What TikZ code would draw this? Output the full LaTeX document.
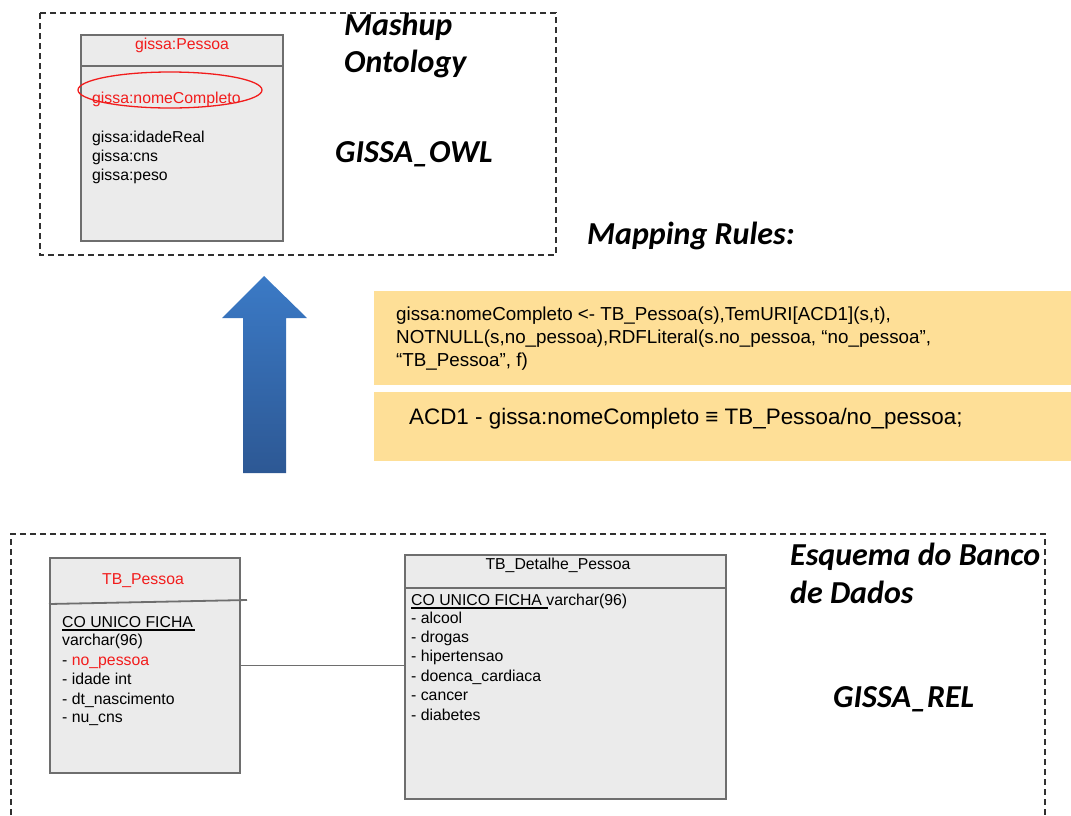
\documentclass[tikz,border=0pt]{standalone}
\usepackage{fontspec}
\setmainfont{Liberation Sans}
\newfontfamily\headfont{Carlito}
\usetikzlibrary{shapes.geometric}

\definecolor{boxfill}{HTML}{EBEBEB}
\definecolor{boxline}{HTML}{6E6E6E}
\definecolor{frameline}{HTML}{303030}
\definecolor{rulefill}{HTML}{FEDF97}
\definecolor{arrowtop}{HTML}{3B7AC6}
\definecolor{arrowbot}{HTML}{2D5894}
\definecolor{hired}{HTML}{F21C1C}

\tikzset{
  frame/.style={draw=frameline, line width=1.3pt, dash pattern=on 6pt off 4pt},
  classbox/.style={draw=boxline, fill=boxfill, line width=2pt, anchor=north west,
    inner sep=0pt},
  divider/.style={draw=boxline, line width=1.8pt},
  rulebox/.style={fill=rulefill, draw=none, anchor=north west, inner sep=0pt},
  txt/.style={anchor=base west, inner sep=0pt, font=\fontsize{15.8}{19}\selectfont},
  ttl/.style={anchor=base, inner sep=0pt, font=\fontsize{15.8}{19}\selectfont},
  head/.style={anchor=base west, inner sep=0pt,
    font=\headfont\bfseries\itshape\fontsize{32}{38}\selectfont},
  ruletxt/.style={anchor=base west, inner sep=0pt, font=\fontsize{18.8}{23}\selectfont},
  conn/.style={draw=boxline, line width=1.6pt},
}

\begin{document}
\begin{tikzpicture}[x=1pt, y=-1pt]
\useasboundingbox (0,0) rectangle (1071,815);

% ---- ontology frame ----
\draw[frame] (40,13) rectangle (556,255);
\node[classbox, minimum width=202pt, minimum height=206pt] (owl) at (80,34) {};
\draw[divider] (80,66) -- (282,66);
\node[ttl, text=hired] (owltitle) at (182,49) {gissa:Pessoa};
\node[txt, text=hired] (nome) at (92,103) {gissa:nomeCompleto};
\node[draw=hired, line width=1.3pt, ellipse, minimum width=184pt, minimum height=36pt,
  inner sep=0pt] (mark) at (170,90) {};
\node[txt] (idade) at (92,142) {gissa:idadeReal};
\node[txt] (cns) at (92,161) {gissa:cns};
\node[txt] (peso) at (92,180) {gissa:peso};

\node[head] (mashup) at (344,35) {Mashup};
\node[head] (ontology) at (344,72) {Ontology};
\node[head] (owlname) at (335,162) {GISSA\_OWL};
\node[head] (mapping) at (587,244) {Mapping Rules:};

% ---- upward arrow ----
\shade[top color=arrowtop, bottom color=arrowbot]
  (264,276) -- (307,318) -- (286,318) -- (286,473) -- (243,473) -- (243,318)
  -- (222,318) -- cycle;

% ---- mapping rules ----
\node[rulebox, minimum width=697pt, minimum height=94pt] (rule1) at (374,291) {};
\node[ruletxt] (r1a) at (396,320)
  {gissa:nomeCompleto <- TB\_Pessoa(s),TemURI[ACD1](s,t),};
\node[ruletxt] (r1b) at (396,343)
  {NOTNULL(s,no\_pessoa),RDFLiteral(s.no\_pessoa, “no\_pessoa”,};
\node[ruletxt] (r1c) at (396,366) {“TB\_Pessoa”, f)};

\node[rulebox, minimum width=697pt, minimum height=69pt] (rule2) at (374,392) {};
\node[ruletxt, font=\fontsize{22.4}{26}\selectfont] (r2a) at (409,424)
  {ACD1 - gissa:nomeCompleto ≡ TB\_Pessoa/no\_pessoa;};

% ---- database frame (open at the bottom) ----
\draw[frame] (11,815) -- (11,534) -- (1045,534) -- (1045,815);

% TB_Pessoa table
\node[classbox, minimum width=190pt, minimum height=215pt] (tbp) at (49,557) {};
\draw[divider] (49,604) -- (247,600);
\node[ttl, text=hired] (tbptitle) at (143,584) {TB\_Pessoa};
\node[txt] (tbpkey) at (62,627) {CO UNICO FICHA};
\draw[line width=1.2pt] (tbpkey.base west) ++(0,3) -- ++(133,0);
\node[txt] (tbptype) at (62,645) {varchar(96)};
\node[txt] (tbpnome) at (62,665) {- \textcolor{hired}{no\_pessoa}};
\node[txt] (tbpidade) at (62,684) {- idade int};
\node[txt] (tbpnasc) at (62,704) {- dt\_nascimento};
\node[txt] (tbpcns) at (62,722) {- nu\_cns};

% TB_Detalhe_Pessoa table
\node[classbox, minimum width=321pt, minimum height=244pt] (tbd) at (404,554) {};
\draw[divider] (404,588) -- (725,588);
\node[ttl] (tbdtitle) at (558,569) {TB\_Detalhe\_Pessoa};
\node[txt] (tbdkey) at (411,605) {CO UNICO FICHA varchar(96)};
\draw[line width=1.2pt] (tbdkey.base west) ++(0,3) -- ++(137,0);
\node[txt] (alcool) at (411,623) {- alcool};
\node[txt] (drogas) at (411,642) {- drogas};
\node[txt] (hiper) at (411,661) {- hipertensao};
\node[txt] (cardio) at (411,681) {- doenca\_cardiaca};
\node[txt] (cancer) at (411,700) {- cancer};
\node[txt] (diab) at (411,720) {- diabetes};

% relation between the two tables
\draw[conn] (tbp.east) -- (tbp.east -| tbd.west);

\node[head] (esquema) at (790,565) {Esquema do Banco};
\node[head] (dados) at (790,603) {de Dados};
\node[head] (relname) at (833,707) {GISSA\_REL};
\end{tikzpicture}
\end{document}
